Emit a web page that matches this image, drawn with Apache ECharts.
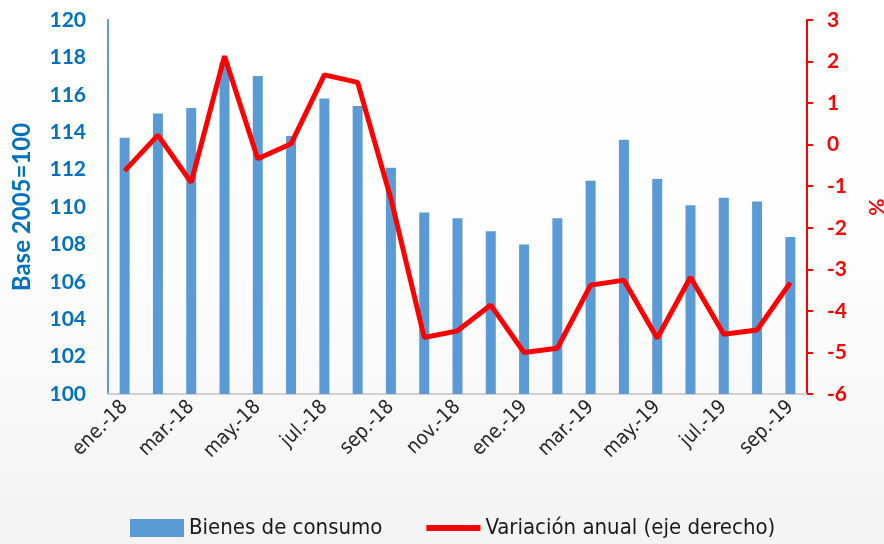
<!DOCTYPE html>
<html><head><meta charset="utf-8">
<script src="https://cdn.jsdelivr.net/npm/echarts@6/dist/echarts.min.js"></script>
<style>html,body{margin:0;padding:0;}#c{width:884px;height:544px;}</style>
</head><body><div id="c"></div>
<script>
const categories = ['ene.-18','feb.-18','mar.-18','abr.-18','may.-18','jun.-18','jul.-18','ago.-18','sep.-18','oct.-18','nov.-18','dic.-18',
  'ene.-19','feb.-19','mar.-19','abr.-19','may.-19','jun.-19','jul.-19','ago.-19','sep.-19'];
const bienesConsumo = [113.7,115.0,115.3,117.7,117.0,113.8,115.8,115.4,112.1,109.7,109.4,108.7,108.0,109.4,111.4,113.6,111.5,110.1,110.5,110.3,108.4];
const variacionAnual = [-0.63,0.23,-0.91,2.13,-0.34,0.02,1.68,1.5,-1.3,-4.64,-4.48,-3.86,-5.0,-4.9,-3.38,-3.26,-4.66,-3.19,-4.56,-4.46,-3.32];
const leftTicks = {min:100,max:120,interval:2};
const rightTicks = {min:-6,max:3,interval:1};

const condensed = "'DejaVu Sans Condensed','Liberation Sans Narrow','Roboto Condensed',sans-serif";
const chart = echarts.init(document.getElementById('c'));
chart.setOption({
  backgroundColor: {type:'linear',x:0,y:0,x2:0,y2:1,colorStops:[{offset:0,color:'#ffffff'},{offset:0.5,color:'#fdfdfd'},{offset:1,color:'#f3f3f3'}]},
  animation:false,
  grid:{left:108,right:77,top:20,bottom:150,outerBoundsMode:'none',containLabel:false},
  legend:{
    bottom:0,left:125,itemWidth:54,itemHeight:18,itemGap:44,
    textStyle:{fontFamily:condensed,fontSize:22,color:'#1a1a1a'},
    data:[{name:'Bienes de consumo',icon:'rect'},{name:'Variación anual (eje derecho)',icon:'path://M0,0h54v6h-54z'}]
  },
  xAxis:{
    type:'category',data:categories,boundaryGap:true,
    axisLine:{onZero:false,lineStyle:{color:'#d0d0d0',width:2}},
    axisTick:{interval:1,length:7,lineStyle:{color:'#d0d0d0',width:2}},
    axisLabel:{interval:1,rotate:45,margin:10,fontFamily:condensed,fontSize:20,color:'#262626'}
  },
  yAxis:[{
    type:'value',min:leftTicks.min,max:leftTicks.max,interval:leftTicks.interval,
    name:'Base 2005=100',nameLocation:'middle',nameGap:74,nameRotate:90,
    nameTextStyle:{fontFamily:'Lato',fontWeight:'bold',fontSize:24,color:'#0070C0'},
    axisLine:{show:true,lineStyle:{color:'#5B9BD5',width:2}},
    axisTick:{show:false},splitLine:{show:false},
    axisLabel:{margin:22,fontFamily:'Lato',fontWeight:'bold',fontSize:21,color:'#0070C0'}
  },{
    type:'value',position:'right',min:rightTicks.min,max:rightTicks.max,interval:rightTicks.interval,
    name:'%',nameLocation:'middle',nameGap:58,nameRotate:-90,
    nameTextStyle:{fontFamily:'Lato',fontWeight:'bold',fontSize:21,color:'#FF0000'},
    axisLine:{show:true,onZero:false,lineStyle:{color:'#FF0000',width:2}},
    axisTick:{show:true,length:6,lineStyle:{color:'#FF0000',width:2}},
    splitLine:{show:false},
    axisLabel:{margin:20,fontFamily:'Lato',fontWeight:'bold',fontSize:21,color:'#FF0000'}
  }],
  series:[{
    name:'Bienes de consumo',type:'bar',data:bienesConsumo,yAxisIndex:0,
    barWidth:'30%',itemStyle:{color:'#5B9BD5'}
  },{
    name:'Variación anual (eje derecho)',type:'line',data:variacionAnual,yAxisIndex:1,
    showSymbol:false,symbol:'none',lineStyle:{color:'#FF0000',width:5},itemStyle:{color:'#FF0000'}
  }]
});
</script></body></html>
